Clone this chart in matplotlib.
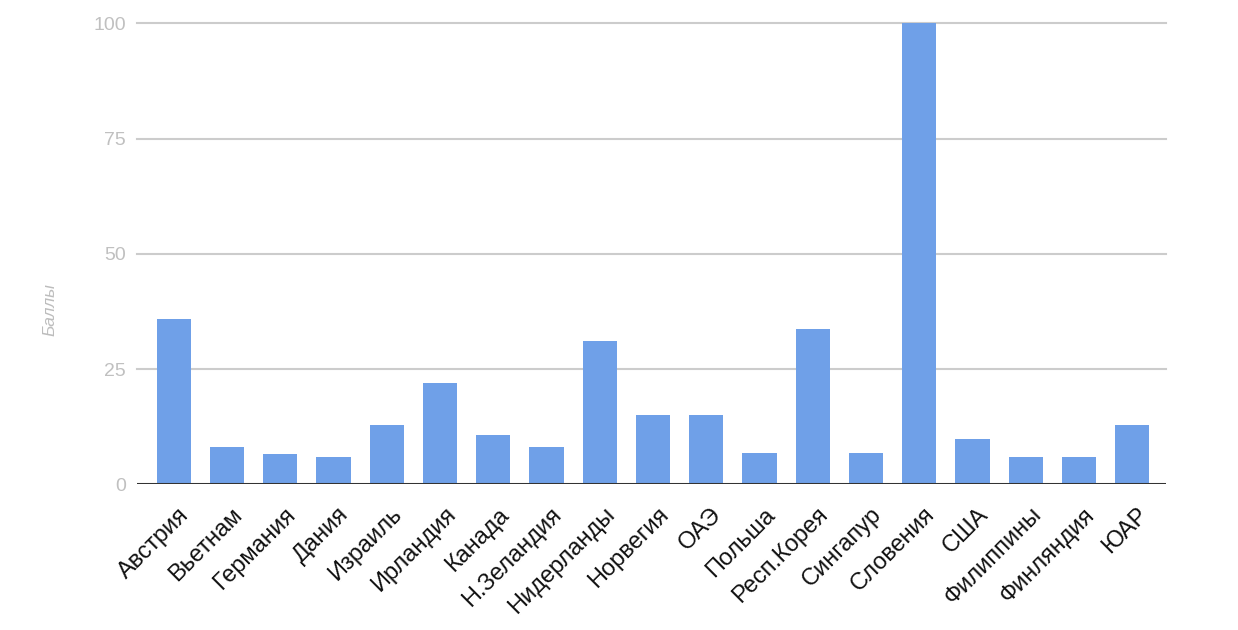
import numpy as np
import matplotlib.pyplot as plt
from matplotlib import transforms

countries = ["Австрия", "Вьетнам", "Германия", "Дания", "Израиль", "Ирландия",
             "Канада", "Н.Зеландия", "Нидерланды", "Норвегия", "ОАЭ", "Польша",
             "Респ.Корея", "Сингапур", "Словения", "США", "Филиппины",
             "Финляндия", "ЮАР"]
scores = [35.9, 8.1, 6.7, 5.9, 12.9, 22.0, 10.7, 8.1, 31.1, 15.0, 15.0, 6.8,
          33.7, 6.8, 100.0, 9.8, 5.9, 5.9, 12.9]
y_ticks = [0, 25, 50, 75, 100]

plt.rcParams['font.family'] = ['Liberation Sans', 'DejaVu Sans']

fig = plt.figure(figsize=(12.38, 6.3), dpi=100)
ax = fig.add_axes([0.1107, 0.231, 0.831, 0.732])

x = np.arange(len(countries))
ax.bar(x, scores, width=0.64, color="#6fa0e8", zorder=3)

ax.set_xlim(-0.69, len(countries) - 1 + 0.63)
ax.set_ylim(0, 100)
ax.set_yticks(y_ticks)
ax.set_yticklabels([str(v) for v in y_ticks])
for v in y_ticks[1:]:
    ax.axhline(v, color="#cccccc", linewidth=1.5, zorder=1, clip_on=False)
ax.axhline(0, color="#333333", linewidth=2.2, zorder=4)

for s in ax.spines.values():
    s.set_visible(False)
ax.tick_params(axis="both", length=0)
ax.tick_params(axis="y", labelsize=14, labelcolor="#c0c0c0", pad=8)

ax.set_xticks(x)
ax.set_xticklabels(countries, rotation=45, ha="right", va="center",
                   rotation_mode="anchor", fontsize=17, color="#111111")
# shift the rotated labels so they end just right of each bar
offset = transforms.ScaledTranslation(12 / 100, -22 / 100, fig.dpi_scale_trans)
for lbl in ax.get_xticklabels():
    lbl.set_transform(lbl.get_transform() + offset)

ax.set_ylabel("Баллы", fontsize=12.5, color="#bdbdbd", style="italic")
ax.yaxis.set_label_coords(-0.077, 0.38)

fig.savefig("out.png", dpi=100)
